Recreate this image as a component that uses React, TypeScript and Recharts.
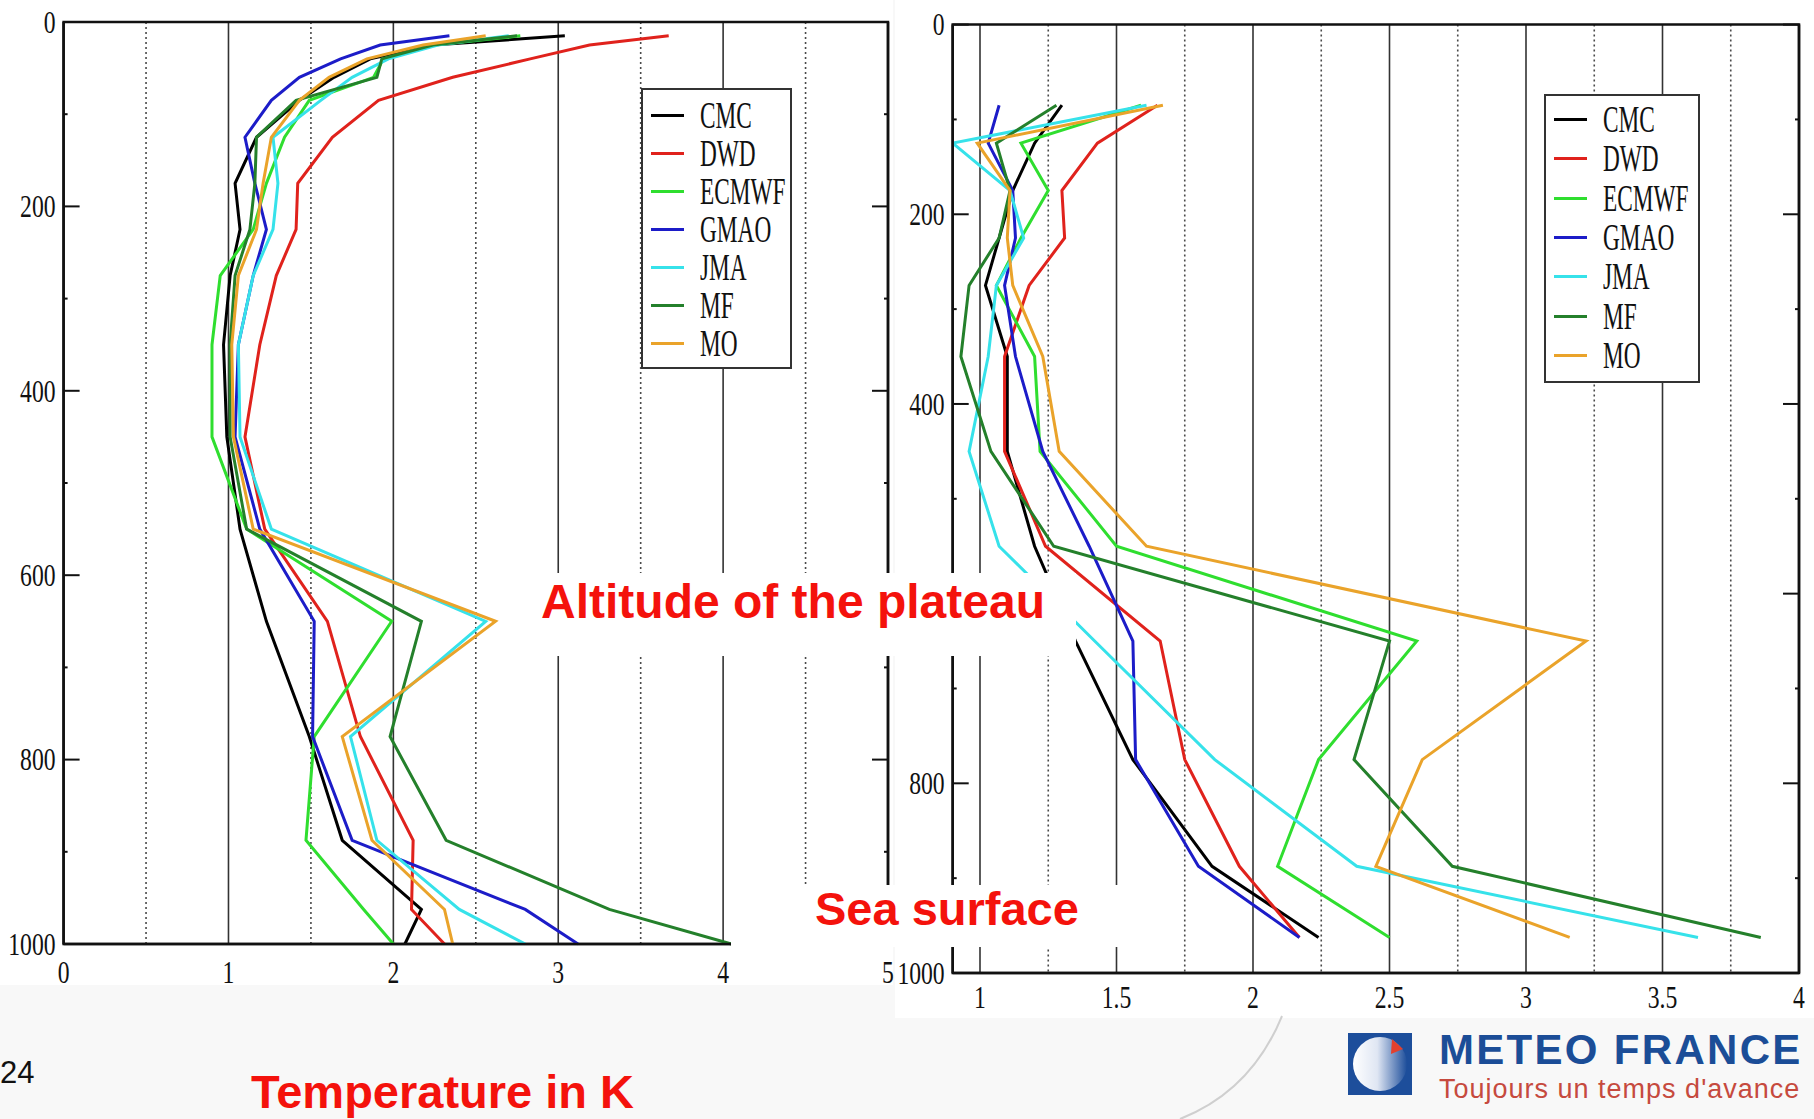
import { LineChart, Line, XAxis, YAxis, CartesianGrid, ReferenceArea, Legend } from "recharts";

const SERIF = '"Liberation Serif", "DejaVu Serif", serif';
const SANS = '"Liberation Sans", Arial, sans-serif';

const models = ["CMC", "DWD", "ECMWF", "GMAO", "JMA", "MF", "MO"];
const colors = ["#000000", "#e0221c", "#2fde2f", "#1c1cc8", "#36e2ea", "#24802b", "#eaa32a"];

// left panel: full column, layer mid-points in hPa
const leftLevels = [15, 25, 40, 60, 85, 125, 175, 225, 275, 350, 450, 550, 650, 775, 887.5, 962.5, 1000];
const leftCMC = [3.04, 2.24, 1.86, 1.64, 1.43, 1.17, 1.04, 1.07, 1.01, 0.97, 0.99, 1.07, 1.23, 1.49, 1.69, 2.17, 2.07];
const leftDWD = [3.67, 3.19, 2.83, 2.36, 1.91, 1.63, 1.42, 1.41, 1.29, 1.19, 1.1, 1.22, 1.6, 1.8, 2.12, 2.11, 2.31];
const leftECMWF = [2.77, 2.25, 1.94, 1.88, 1.49, 1.34, 1.23, 1.15, 0.95, 0.9, 0.9, 1.11, 1.99, 1.52, 1.47, 1.82, 2.0];
const leftGMAO = [2.34, 1.92, 1.68, 1.43, 1.26, 1.1, 1.16, 1.23, 1.15, 1.06, 1.04, 1.19, 1.52, 1.51, 1.75, 2.8, 3.12];
const leftJMA = [2.7, 2.27, 1.97, 1.75, 1.56, 1.27, 1.3, 1.27, 1.15, 1.06, 1.07, 1.26, 2.56, 1.74, 1.9, 2.4, 2.8];
const leftMF = [2.75, 2.24, 1.93, 1.9, 1.41, 1.17, 1.16, 1.13, 1.04, 1.01, 1.01, 1.11, 2.17, 1.98, 2.32, 3.31, 4.05];
const leftMO = [2.56, 2.18, 1.84, 1.61, 1.43, 1.26, 1.21, 1.17, 1.06, 1.02, 1.03, 1.15, 2.62, 1.69, 1.87, 2.31, 2.36];

// right panel
const rightLevels = [85, 125, 175, 225, 275, 350, 450, 550, 650, 775, 887.5, 962.5];
const rightCMC = [1.3, 1.2, 1.12, 1.07, 1.02, 1.1, 1.1, 1.2, 1.35, 1.56, 1.85, 2.24];
const rightDWD = [1.65, 1.43, 1.3, 1.31, 1.18, 1.09, 1.09, 1.24, 1.66, 1.75, 1.95, 2.17];
const rightECMWF = [1.59, 1.15, 1.25, 1.15, 1.06, 1.2, 1.22, 1.5, 2.6, 2.24, 2.09, 2.5];
const rightGMAO = [1.07, 1.03, 1.12, 1.13, 1.09, 1.13, 1.23, 1.4, 1.56, 1.57, 1.8, 2.17];
const rightJMA = [1.61, 0.9, 1.11, 1.16, 1.06, 1.03, 0.96, 1.07, 1.42, 1.86, 2.38, 3.63];
const rightMF = [1.28, 1.06, 1.11, 1.07, 0.96, 0.93, 1.04, 1.27, 2.5, 2.37, 2.73, 3.86];
const rightMO = [1.67, 0.99, 1.11, 1.1, 1.12, 1.23, 1.29, 1.61, 3.22, 2.62, 2.45, 3.16];

const leftXTicks = [0, 1, 2, 3, 4, 5];
const leftSolid = [1, 2, 3, 4];
const leftDotted = [0.5, 1.5, 2.5, 3.5, 4.5];
const rightXTicks = [1, 1.5, 2, 2.5, 3, 3.5, 4];
const rightSolid = [1, 1.5, 2, 2.5, 3, 3.5];
const rightDotted = [1.25, 1.75, 2.25, 2.75, 3.25, 3.75];
const levelTicks = [0, 100, 200, 300, 400, 500, 600, 700, 800, 900, 1000];

function buildRows(levels: number[], series: number[][]) {
  return levels.map((level, i) => {
    const row: Record<string, number> = { level };
    models.forEach((m, k) => {
      row[m] = series[k][i];
    });
    return row;
  });
}

const leftData = buildRows(leftLevels, [leftCMC, leftDWD, leftECMWF, leftGMAO, leftJMA, leftMF, leftMO]);
const rightData = buildRows(rightLevels, [rightCMC, rightDWD, rightECMWF, rightGMAO, rightJMA, rightMF, rightMO]);

function XTick({ x, y, payload, gap }: any) {
  return (
    <text
      transform={`translate(${x},${y + gap}) scale(0.74,1)`}
      textAnchor="middle"
      dominantBaseline="central"
      fontFamily={SERIF}
      fontSize={32}
      fill="#111"
    >
      {payload.value}
    </text>
  );
}

function LeftTick({ x, y, payload, hidden }: any) {
  const major = payload.value % 200 === 0;
  const axisX = x + 8;
  const showLabel = major && !(hidden || []).includes(payload.value);
  return (
    <g>
      <line x1={axisX} x2={axisX + (major ? 16 : 4)} y1={y} y2={y} stroke="#111" strokeWidth={2} />
      {showLabel && (
        <text
          transform={`translate(${x},${y}) scale(0.74,1)`}
          textAnchor="end"
          dominantBaseline="central"
          fontFamily={SERIF}
          fontSize={32}
          fill="#111"
        >
          {payload.value}
        </text>
      )}
    </g>
  );
}

function RightTick({ x, y, payload }: any) {
  const major = payload.value % 200 === 0;
  return <line x1={x} x2={x - (major ? 16 : 4)} y1={y} y2={y} stroke="#111" strokeWidth={2} />;
}

function LegendBox({ payload, boxWidth, boxHeight, row, padTop }: any) {
  return (
    <div
      style={{
        boxSizing: "border-box",
        width: boxWidth,
        height: boxHeight,
        border: "2px solid #333",
        background: "#fff",
        paddingTop: padTop,
        paddingLeft: 8,
      }}
    >
      {(payload || []).map((p: any) => (
        <div key={p.value} style={{ display: "flex", alignItems: "center", height: row }}>
          <div style={{ width: 33, height: 3, background: p.color, marginRight: 16, flexShrink: 0 }} />
          <span
            style={{
              display: "inline-block",
              fontFamily: SERIF,
              fontSize: 37,
              lineHeight: 1,
              color: "#111",
              whiteSpace: "nowrap",
              transform: "scaleX(0.63)",
              transformOrigin: "left center",
            }}
          >
            {p.value}
          </span>
        </div>
      ))}
    </div>
  );
}

interface ProfileProps {
  data: Record<string, number>[];
  width: number;
  height: number;
  margin: { top: number; right: number; bottom: number; left: number };
  xDomain: [number, number];
  xTicks: number[];
  solid: number[];
  dotted: number[];
  yWidth: number;
  labelGap: number;
  hiddenLabels?: number[];
  legend: { left: number; top: number; boxWidth: number; boxHeight: number; row: number; padTop: number };
}

const frame = { stroke: "#111", strokeWidth: 2.5 };

function ProfileChart({ data, width, height, margin, xDomain, xTicks, solid, dotted, yWidth, labelGap, hiddenLabels, legend }: ProfileProps) {
  return (
    <LineChart layout="vertical" width={width} height={height} data={data} margin={margin}>
      <CartesianGrid horizontal={false} verticalValues={dotted} stroke="#4a4a4a" strokeWidth={1.6} strokeDasharray="2 3" />
      <CartesianGrid horizontal={false} verticalValues={solid} stroke="#333" strokeWidth={1.6} />
      <XAxis
        type="number"
        domain={xDomain}
        ticks={xTicks}
        interval={0}
        allowDataOverflow
        axisLine={frame}
        tickLine={false}
        tickSize={0}
        tickMargin={0}
        height={50}
        tick={(p: any) => <XTick {...p} gap={labelGap} />}
      />
      <YAxis
        type="number"
        dataKey="level"
        domain={[0, 1000]}
        ticks={levelTicks}
        interval={0}
        width={yWidth}
        axisLine={frame}
        tickLine={false}
        tickSize={0}
        tickMargin={8}
        tick={(p: any) => <LeftTick {...p} hidden={hiddenLabels} />}
      />
      <YAxis
        yAxisId="r"
        orientation="right"
        type="number"
        dataKey="level"
        domain={[0, 1000]}
        ticks={levelTicks}
        interval={0}
        width={10}
        axisLine={frame}
        tickLine={false}
        tickSize={0}
        tickMargin={0}
        tick={(p: any) => <RightTick {...p} />}
      />
      <ReferenceArea x1={xDomain[0]} x2={xDomain[1]} y1={0} y2={1000} fill="none" stroke="#111" strokeWidth={2.5} />
      <Legend
        layout="vertical"
        align="center"
        verticalAlign="middle"
        wrapperStyle={{ left: legend.left, top: legend.top, width: legend.boxWidth }}
        content={(props: any) => <LegendBox {...props} {...legend} />}
      />
      {models.map((m, k) => (
        <Line
          key={m}
          type="linear"
          dataKey={m}
          name={m}
          stroke={colors[k]}
          strokeWidth={3}
          dot={false}
          activeDot={false}
          isAnimationActive={false}
        />
      ))}
    </LineChart>
  );
}

const redText = { position: "absolute" as const, color: "#f4120c", fontFamily: SANS, fontWeight: 700, whiteSpace: "nowrap" as const };

export default function App() {
  return (
    <div style={{ position: "absolute", left: 0, top: 0, width: 1814, height: 1119, background: "#f8f8f8", overflow: "hidden" }}>
      <div style={{ position: "absolute", left: 0, top: 0, width: 893, height: 985, background: "#fff" }} />
      <div style={{ position: "absolute", left: 895, top: 0, width: 919, height: 1018, background: "#fff" }} />
      <svg style={{ position: "absolute", left: 0, top: 0 }} width={1814} height={1119}>
        <path d="M1282 1016 C1264 1060 1234 1098 1180 1119" stroke="#cfcfcf" strokeWidth={2} fill="none" />
      </svg>

      <div style={{ position: "absolute", left: 0, top: 0 }}>
        <ProfileChart
          data={leftData}
          width={900}
          height={1000}
          margin={{ top: 22, right: 2, bottom: 6, left: 3.6 }}
          xDomain={[0, 5]}
          xTicks={leftXTicks}
          solid={leftSolid}
          dotted={leftDotted}
          yWidth={60}
          labelGap={28}
          legend={{ left: 641, top: 88, boxWidth: 151, boxHeight: 281, row: 38.1, padTop: 6 }}
        />
      </div>

      <div style={{ position: "absolute", left: 897, top: 0 }}>
        <ProfileChart
          data={rightData}
          width={917}
          height={1030}
          margin={{ top: 24.6, right: 5, bottom: 7, left: 5.7 }}
          xDomain={[0.9, 4]}
          xTicks={rightXTicks}
          solid={rightSolid}
          dotted={rightDotted}
          yWidth={50}
          labelGap={24}
          hiddenLabels={[600]}
          legend={{ left: 647, top: 94, boxWidth: 156, boxHeight: 289, row: 39.3, padTop: 4 }}
        />
      </div>

      <div style={{ position: "absolute", left: 536, top: 573, width: 540, height: 83, background: "#fff" }} />
      <div style={{ ...redText, left: 541, top: 578, fontSize: 48, lineHeight: "48px" }}>Altitude of the plateau</div>

      <div style={{ position: "absolute", left: 731, top: 885, width: 394, height: 62, background: "#fff" }} />
      <div style={{ ...redText, left: 815, top: 885, fontSize: 47, lineHeight: "47px" }}>Sea surface</div>

      <div style={{ ...redText, left: 251, top: 1068, fontSize: 47, lineHeight: "47px" }}>Temperature in K</div>

      <div style={{ position: "absolute", left: 0, top: 1057, fontFamily: SANS, fontSize: 31, lineHeight: "31px", color: "#111" }}>24</div>

      <svg style={{ position: "absolute", left: 1348, top: 1033 }} width={64} height={62}>
        <defs>
          <linearGradient id="mfBall" x1="0" x2="1" y1="0" y2="0">
            <stop offset="0" stopColor="#ffffff" />
            <stop offset="0.45" stopColor="#dfe6f3" />
            <stop offset="1" stopColor="#1d4e9b" />
          </linearGradient>
        </defs>
        <rect width={64} height={62} fill="#1d4e9b" />
        <circle cx={32} cy={31} r={27} fill="url(#mfBall)" />
        <polygon points="44,6 55,16 43,21" fill="#e2402e" />
      </svg>
      <div
        style={{
          position: "absolute",
          left: 1439,
          top: 1032,
          fontFamily: SANS,
          fontWeight: 700,
          fontSize: 42,
          lineHeight: "36px",
          letterSpacing: 2.3,
          color: "#1b4d97",
          whiteSpace: "nowrap",
        }}
      >
        METEO FRANCE
      </div>
      <div
        style={{
          position: "absolute",
          left: 1439,
          top: 1077,
          fontFamily: SANS,
          fontSize: 27,
          lineHeight: "24px",
          letterSpacing: 1,
          color: "#c64a3e",
          whiteSpace: "nowrap",
        }}
      >
        Toujours un temps d'avance
      </div>
    </div>
  );
}
